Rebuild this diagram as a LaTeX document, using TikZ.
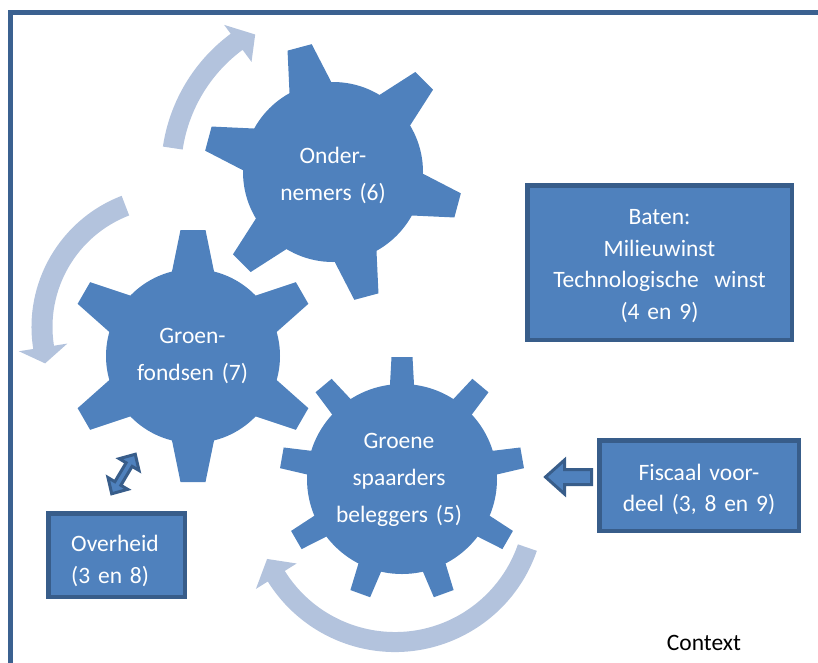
\documentclass[tikz,border=0pt]{standalone}
\usepackage{fontspec}
\setmainfont{Carlito}
\definecolor{gearblue}{HTML}{4F81BD}
\definecolor{boxborder}{HTML}{385D8A}
\definecolor{lightarrow}{HTML}{B3C3DD}
\definecolor{framec}{HTML}{3B6190}
\newcommand\fixsp{\spaceskip=\fontdimen2\font\relax}
\begin{document}
\begin{tikzpicture}[x=1pt,y=-1pt,
  gearfill/.style={fill=gearblue},
  boxshape/.style={draw=boxborder, fill=gearblue, line width=4.5pt, inner sep=0pt},
  blockarrow/.style={draw=boxborder, fill=gearblue, line width=3pt, line join=miter},
  circarrow/.style={fill=lightarrow},
  geartext/.style={text=white, font=\fontsize{23.5}{37}\selectfont\fixsp, text width=200pt, align=center, inner sep=0pt, anchor=base},
  boxtext/.style={text=white, font=\fontsize{23.5}{31.7}\selectfont\fixsp, text width=260pt, align=center, inner sep=0pt, anchor=base}]
\useasboundingbox (0,0) rectangle (818,662);
% frame
\draw[framec, line width=5pt] (10,680) -- (10,12.5) -- (840,12.5);

% gear 1 : Ondernemers
\begin{scope}[shift={(333,172)}]
  \fill[gearfill] (0,0) circle[radius=90];
  \foreach \a in {105,165,225,285,345,405}
    \fill[gearfill, rotate=\a] (70,-25.4) -- (129,-12.5) -- (129,12.5) -- (70,25.4) -- cycle;
\end{scope}
% gear 2 : Groenfondsen
\begin{scope}[shift={(193,356)}]
  \fill[gearfill] (0,0) circle[radius=87];
  \foreach \a in {90,150,210,270,330,390}
    \fill[gearfill, rotate=\a] (67,-24.6) -- (126,-12.5) -- (126,12.5) -- (67,24.6) -- cycle;
\end{scope}
% gear 3 : Groene spaarders
\begin{scope}[shift={(402,479)}]
  \fill[gearfill] (0,0) circle[radius=95];
  \foreach \a in {90,130,170,210,250,290,330,370,410}
    \fill[gearfill, rotate=\a] (80,-12.8) -- (122,-10.5) -- (122,10.5) -- (80,12.8) -- cycle;
\end{scope}

% circular arrows
\begin{scope}[shift={(333,172)}]
  \fill[circarrow] (-171.5:172) arc[start angle=-171.5, end angle=-126.5, radius=172]
    -- (-126.5:183) -- (-119.5:158) -- (-126.5:137) -- (-126.5:152)
    arc[start angle=-126.5, end angle=-171.5, radius=152] -- cycle;
\end{scope}
\begin{scope}[shift={(172,327)}]
  \fill[circarrow] (249:140.5) arc[start angle=249, end angle=171, radius=140.5]
    -- (171:155) -- (164:132) -- (171:106) -- (171:119.5)
    arc[start angle=171, end angle=249, radius=119.5] -- cycle;
\end{scope}
\begin{scope}[shift={(395,502)}]
  \fill[circarrow] (19:150) arc[start angle=19, end angle=148, radius=150]
    -- (148:164) -- (156:140) -- (148:116) -- (148:130)
    arc[start angle=148, end angle=19, radius=130] -- cycle;
\end{scope}

% boxes
\node[boxshape, minimum width=264.5pt, minimum height=154.5pt] (baten) at (659.5,262.5) {};
\node[boxshape, minimum width=199.5pt, minimum height=90.5pt] (fiscaal) at (699,485.5) {};
\node[boxshape, minimum width=136.5pt, minimum height=83.5pt] (overheid) at (116.5,555) {};

% block arrows
\fill[blockarrow] (545.5,477) -- (564.5,460) -- (564.5,469.5) -- (591.5,469.5)
  -- (591.5,484.5) -- (564.5,484.5) -- (564.5,494) -- cycle;
\begin{scope}[shift={(123.5,474)}, rotate=59.2]
  \fill[blockarrow] (-23,0) -- (-11,-11.5) -- (-11,-3.5) -- (11,-3.5) -- (11,-11.5)
    -- (23,0) -- (11,11.5) -- (11,3.5) -- (-11,3.5) -- (-11,11.5) -- cycle;
\end{scope}

% texts
\node[geartext] (t1) at (333,163) {Onder-\\nemers (6)};
\node[geartext] (t2) at (192.5,343.5) {Groen-\\fondsen (7)};
\node[geartext] (t3) at (399,448) {Groene\\spaarders\\beleggers (5)};
\node[boxtext] (tb) at (659.5,224.3) {Baten:\\Milieuwinst\\Technologische\ \ winst\\(4 en 9)};
\node[boxtext] (tf) at (699,480) {Fiscaal voor-\\deel (3, 8 en 9)};
\node[boxtext, text width=130pt, align=left, anchor=base west] (to) at (71,551.7) {Overheid\\(3 en 8)};
\node[font=\fontsize{23.5}{28}\selectfont, inner sep=0pt, anchor=base] (ctx) at (704,650.5) {Context};
\end{tikzpicture}
\end{document}
